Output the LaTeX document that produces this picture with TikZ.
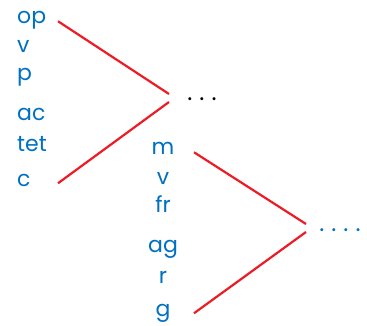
\documentclass[tikz,border=0pt]{standalone}
\usepackage{fontspec}
\setmainfont{Poppins}
\usetikzlibrary{positioning}
\definecolor{itemblue}{RGB}{0,112,192}
\definecolor{linkred}{RGB}{237,28,36}

\begin{document}
\begin{tikzpicture}[
    x=1pt, y=-1pt,
    item/.style={text=itemblue, font=\fontsize{22}{26}\selectfont, inner sep=0pt},
    link/.style={linkred, line width=2.2pt},
    more/.style={font=\fontsize{24}{26}\selectfont, inner sep=0pt}
]
    \useasboundingbox (0,0) rectangle (367,326);

    % First column (left aligned)
    \node[item, anchor=base west] (op) at (17,24) {op};
    \node[item, anchor=base west] (v1) at (17,53) {v};
    \node[item, anchor=base west] (p) at (17,81) {p};
    \node[item, anchor=base west] (ac) at (17,121) {ac};
    \node[item, anchor=base west] (tet) at (17,152) {tet};
    \node[item, anchor=base west] (c) at (17,186) {c};

    % First fork
    \node[more, anchor=base] (more1) at (202,101) {.\hspace{7pt}.\hspace{7pt}.};
    \coordinate (fork1) at (169,98);
    \coordinate (start1) at (58,0);

    % Second column (centred)
    \node[item, anchor=base] (m) at (163,155) {m};
    \node[item, anchor=base] (v2) at (163,185) {v};
    \node[item, anchor=base] (fr) at (163,212) {fr};
    \node[item, anchor=base] (ag) at (163,252) {ag};
    \node[item, anchor=base] (r) at (163,283) {r};
    \node[item, anchor=base] (g) at (163,316) {g};

    % Second fork
    \node[more, text=itemblue, anchor=base] (more2) at (340,231) {.\hspace{7pt}.\hspace{7pt}.\hspace{7pt}.};
    \coordinate (fork2) at (306,228);
    \coordinate (start2) at (194,0);

    % Links
    \draw[link] (start1 |- op.mid) -- ([yshift=4pt]fork1);
    \draw[link] ([yshift=-4pt]fork1) -- (start1 |- c.mid);
    \draw[link] (start2 |- m.mid) -- ([yshift=4pt]fork2);
    \draw[link] ([yshift=-4pt]fork2) -- (start2 |- g.mid);
\end{tikzpicture}
\end{document}
